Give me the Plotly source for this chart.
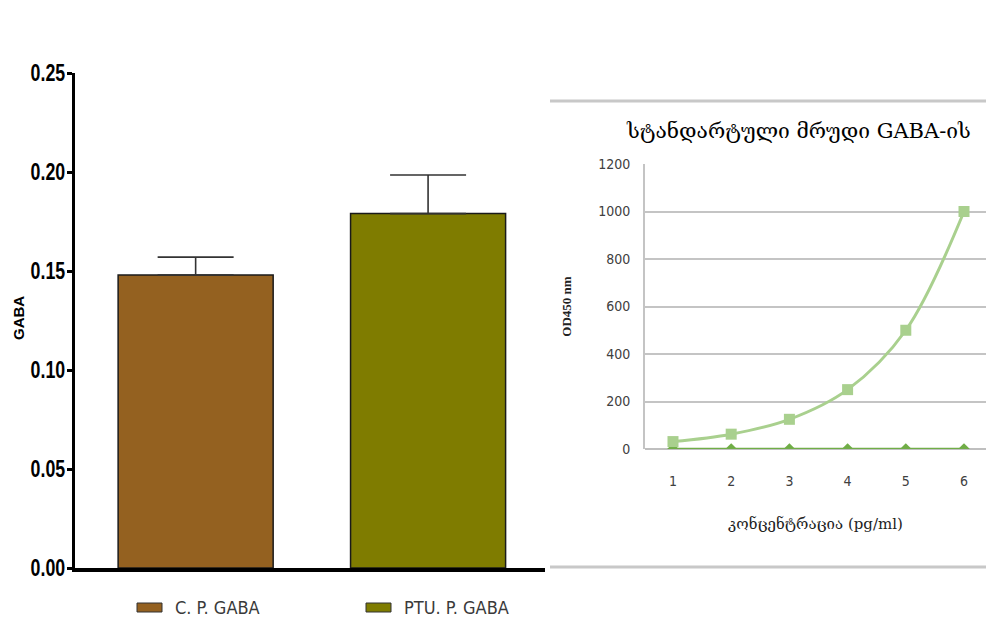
import plotly.graph_objects as go

W, H = 986, 641

# Left panel: GABA bar chart with SEM (upper) error bars
groups = ["C. P. GABA", "PTU. P. GABA"]
gaba_mean = [0.148, 0.179]
gaba_sem = [0.009, 0.0195]
bar_colors = ["#946120", "#7f7c00"]

# Right panel: GABA standard curve
conc_idx = [1, 2, 3, 4, 5, 6]
od_standard = [31.25, 62.5, 125, 250, 500, 1000]
od_blank = [0, 0, 0, 0, 0, 0]
y_ticks_left = [0.00, 0.05, 0.10, 0.15, 0.20, 0.25]
y_ticks_right = [0, 200, 400, 600, 800, 1000, 1200]

def px_x(p):
    return p / W

def px_y(p):
    return 1 - p / H

sans = "Liberation Sans, Arial, sans-serif"
narrow = "DejaVu Sans Condensed, Liberation Sans, sans-serif"
serif_geo = "DejaVu Serif, DejaVu Sans, serif"

fig = go.Figure()

fig.add_trace(go.Bar(
    x=[0, 1], y=gaba_mean, width=0.667,
    marker=dict(color=bar_colors, line=dict(color="#1a1a1a", width=1.5)),
    error_y=dict(type="data", symmetric=False, array=gaba_sem, arrayminus=[0, 0],
                 color="#333333", thickness=1.6, width=38),
    xaxis="x", yaxis="y", showlegend=False,
))

fig.add_trace(go.Scatter(
    x=conc_idx, y=od_blank, mode="lines+markers",
    line=dict(color="#70ad47", width=2.5),
    marker=dict(symbol="diamond", size=9, color="#70ad47"),
    xaxis="x2", yaxis="y2", showlegend=False,
))
fig.add_trace(go.Scatter(
    x=conc_idx, y=od_standard, mode="lines+markers",
    line=dict(color="#a9d08e", width=3, shape="spline"),
    marker=dict(symbol="square", size=11, color="#a9d08e"),
    xaxis="x2", yaxis="y2", showlegend=False,
))

layout = dict(
    width=W, height=H,
    margin=dict(l=0, r=0, t=0, b=0, autoexpand=False),
    paper_bgcolor="white", plot_bgcolor="rgba(0,0,0,0)",
    xaxis=dict(
        domain=[px_x(75), px_x(545)], range=[-0.519, 1.503], automargin=False,
        showticklabels=False, ticks="", showgrid=False, zeroline=False,
        showline=True, linecolor="black", linewidth=3.5, anchor="y",
    ),
    yaxis=dict(
        domain=[px_y(568), px_y(73)], range=[0, 0.25], automargin=False,
        tickvals=y_ticks_left, ticktext=[f"{v:.2f}" for v in y_ticks_left],
        ticks="outside", ticklen=5, tickwidth=3, tickcolor="black",
        ticklabelstandoff=-3,
        tickfont=dict(family=sans, size=24, color="black", weight="bold"),
        showgrid=False, zeroline=False, showline=True, linecolor="black",
        linewidth=3, anchor="x",
    ),
    xaxis2=dict(
        domain=[px_x(645), 1.0], range=[0.519, 6.378], automargin=False,
        tickvals=conc_idx, ticks="", showgrid=False, zeroline=False,
        showline=False, anchor="y2", ticklabelstandoff=22,
        tickfont=dict(family=narrow, size=14, color="#404040"),
        title=dict(text="კონცენტრაცია (pg/ml)",
                   font=dict(family=serif_geo, size=15, color="#222222"), standoff=30),
    ),
    yaxis2=dict(
        domain=[px_y(449), px_y(164)], range=[0, 1200], automargin=False,
        tickvals=y_ticks_right, ticks="", showgrid=True, gridcolor="#c4c4c4",
        gridwidth=2, zeroline=True, zerolinecolor="#bfbfbf", zerolinewidth=2,
        showline=True, linecolor="#c4c4c4", linewidth=2, anchor="x2",
        ticklabelstandoff=10,
        tickfont=dict(family=narrow, size=14, color="#404040"),
        title=dict(text="<b>OD450 nm</b>", font=dict(family="Liberation Serif, serif",
                                                     size=13, color="#222222"), standoff=24),
    ),
)
fig.update_layout(**layout)

# Y-axis title of the bar chart
fig.add_annotation(
    text="<b>GABA</b>", xref="paper", yref="paper", x=px_x(18), y=px_y(318),
    xanchor="center", yanchor="middle", textangle=-90, showarrow=False,
    font=dict(family=sans, size=15, color="black"),
)

# Panel borders of the standard-curve figure
for yline in (101, 567):
    fig.add_shape(type="line", xref="paper", yref="paper",
                  x0=px_x(550), x1=1.0, y0=px_y(yline), y1=px_y(yline),
                  line=dict(color="#c8c8c8", width=3))

fig.add_annotation(
    text="სტანდარტული მრუდი GABA-ის", xref="paper", yref="paper",
    x=px_x(798), y=px_y(131), xanchor="center", yanchor="middle", showarrow=False,
    font=dict(family=serif_geo, size=21, color="#000000"),
)

# Legend for the bar chart
legend_pos = [(137, 173), (366, 402)]
for name, color, (sx, tx) in zip(groups, bar_colors, legend_pos):
    fig.add_shape(type="rect", xref="paper", yref="paper",
                  x0=px_x(sx), x1=px_x(sx + 25), y0=px_y(612), y1=px_y(603),
                  fillcolor=color, line=dict(color="#333333", width=1))
    fig.add_annotation(
        text=name, xref="paper", yref="paper", x=px_x(tx), y=px_y(607),
        xanchor="left", yanchor="middle", showarrow=False,
        font=dict(family=narrow, size=18, color="#3a3a3a"),
    )

# Narrow the bold tick labels of the bar chart's value axis
squeeze_ticks = """
var gd = document.getElementById('{plot_id}');
gd.querySelectorAll('.subplot.xy .yaxislayer-above .ytick text').forEach(function (t) {
    var w = t.getComputedTextLength();
    t.setAttribute('lengthAdjust', 'spacingAndGlyphs');
    t.setAttribute('textLength', (w * 0.74).toFixed(1));
});
"""

fig.write_html("out.html", post_script=squeeze_ticks)
